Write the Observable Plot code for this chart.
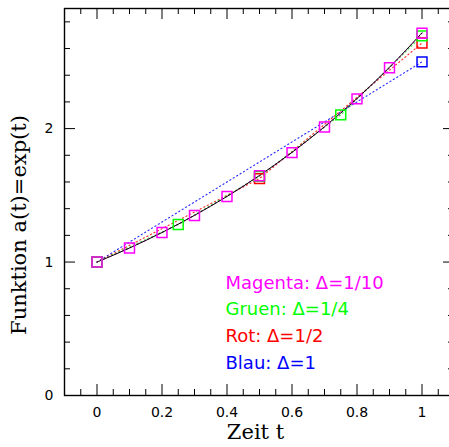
<!DOCTYPE html>
<html>
<head>
<meta charset="utf-8">
<script src="https://cdn.jsdelivr.net/npm/d3@7"></script>
<script src="https://cdn.jsdelivr.net/npm/@observablehq/plot@0.6"></script>
<style>
  html, body { margin: 0; padding: 0; background: #fff; }
  g[aria-label="legend"] text { letter-spacing: 2.7px; }
  g[aria-label="title"] text { letter-spacing: 2.2px; }
</style>
</head>
<body>
<div id="chart"></div>
<script>
// exact curve a(t) = exp(t), sampled values
const tExact = [0,0.05,0.1,0.15,0.2,0.25,0.3,0.35,0.4,0.45,0.5,0.55,0.6,0.65,0.7,0.75,0.8,0.85,0.9,0.95,1];
const aExact = [1,1.0513,1.1052,1.1618,1.2214,1.2840,1.3499,1.4191,1.4918,1.5683,1.6487,1.7333,1.8221,1.9155,2.0138,2.1170,2.2255,2.3396,2.4596,2.5857,2.7183];

// approximations
const tMagenta = [0,0.1,0.2,0.3,0.4,0.5,0.6,0.7,0.8,0.9,1];
const aMagenta = [1,1.105,1.221,1.349,1.491,1.647,1.820,2.012,2.223,2.456,2.714];
const tGreen = [0,0.25,0.5,0.75,1];
const aGreen = [1,1.281,1.642,2.103,2.695];
const tRed = [0,0.5,1];
const aRed = [1,1.625,2.641];
const tBlue = [0,1];
const aBlue = [1,2.5];

const legendLabels = ["Magenta: Δ=1/10", "Gruen: Δ=1/4", "Rot: Δ=1/2", "Blau: Δ=1"];
const legendColors = ["#ff00ff", "#00ff00", "#ff0000", "#0000ff"];

const xMajor = [0,0.2,0.4,0.6,0.8,1];
const xMinor = [-0.05,0.05,0.1,0.15,0.25,0.3,0.35,0.45,0.5,0.55,0.65,0.7,0.75,0.85,0.9,0.95,1.05];
const yMajor = [0,1,2];
const yMinor = [0.2,0.4,0.6,0.8,1.2,1.4,1.6,1.8,2.2,2.4,2.6,2.8];

const W = 449, H = 447;
const mL = 64, mR = -5, mT = 8, mB = 52;
const frameW = W - mL - mR, frameH = H - mT - mB;
const majLen = 11, minLen = 6;

const rows = (ts, as) => ts.map((t, i) => ({t, a: as[i]}));
const series = [
  {d: rows(tBlue, aBlue), c: "#0000ff"},
  {d: rows(tRed, aRed), c: "#ff0000"},
  {d: rows(tGreen, aGreen), c: "#00ff00"},
  {d: rows(tMagenta, aMagenta), c: "#ff00ff"}
];

const marks = [];
// ticks (inward, all four sides)
marks.push(Plot.tickX(xMajor, {x: d => d, insetTop: frameH - majLen, stroke: "#000", strokeWidth: 1}));
marks.push(Plot.tickX(xMinor, {x: d => d, insetTop: frameH - minLen, stroke: "#000", strokeWidth: 1}));
marks.push(Plot.tickX(xMajor, {x: d => d, insetBottom: frameH - majLen, stroke: "#000", strokeWidth: 1}));
marks.push(Plot.tickX(xMinor, {x: d => d, insetBottom: frameH - minLen, stroke: "#000", strokeWidth: 1}));
marks.push(Plot.tickY(yMajor, {y: d => d, insetRight: frameW - majLen, stroke: "#000", strokeWidth: 1}));
marks.push(Plot.tickY(yMinor, {y: d => d, insetRight: frameW - minLen, stroke: "#000", strokeWidth: 1}));
marks.push(Plot.tickY(yMajor, {y: d => d, insetLeft: frameW - majLen, stroke: "#000", strokeWidth: 1}));
marks.push(Plot.tickY(yMinor, {y: d => d, insetLeft: frameW - minLen, stroke: "#000", strokeWidth: 1}));
marks.push(Plot.frame({stroke: "#000", strokeWidth: 1.4}));
// tick labels
marks.push(Plot.axisX({anchor: "bottom", ticks: xMajor, tickSize: 0, tickPadding: 12, tickFormat: d => String(d), fontSize: 14, label: null}));
marks.push(Plot.axisY({anchor: "left", ticks: yMajor, tickSize: 0, tickPadding: 11, tickFormat: d => String(d), fontSize: 14, label: null}));

// dotted connecting lines
for (const s of series) {
  marks.push(Plot.line(s.d, {x: "t", y: "a", stroke: s.c, strokeWidth: 1.1, strokeOpacity: 0.85, strokeDasharray: "1.2,2.8"}));
}
// exact curve
marks.push(Plot.line(rows(tExact, aExact), {x: "t", y: "a", stroke: "#000", strokeWidth: 1, curve: "catmull-rom"}));
// squares
for (const s of series) {
  marks.push(Plot.dot(s.d, {x: "t", y: "a", symbol: "square", r: 5.6, stroke: s.c, strokeWidth: 1.5, fill: "none"}));
}
// legend
legendLabels.forEach((lab, i) => {
  marks.push(Plot.text([lab], {
    text: d => d, frameAnchor: "top-left", textAnchor: "start", lineAnchor: "bottom",
    dx: 161, dy: 280 + i * 26.7, fill: legendColors[i], fontSize: 18,
    fontFamily: "DejaVu Sans", ariaLabel: "legend"
  }));
});
// axis titles
marks.push(Plot.text(["Zeit t"], {
  text: d => d, frameAnchor: "bottom", textAnchor: "middle", dx: -4, dy: 43.3, fontSize: 21,
  fontFamily: "DejaVu Serif", fill: "#000", ariaLabel: "title"
}));
marks.push(Plot.text(["Funktion a(t)=exp(t)"], {
  text: d => d, frameAnchor: "left", textAnchor: "middle", rotate: -90, dx: -45.7, dy: 23, fontSize: 21,
  fontFamily: "DejaVu Serif", fill: "#000", ariaLabel: "title"
}));

const chart = Plot.plot({
  width: W, height: H,
  marginLeft: mL, marginRight: mR, marginTop: mT, marginBottom: mB,
  x: {domain: [-0.1, 1.1], label: null},
  y: {domain: [0, 2.9], label: null},
  style: {fontFamily: "DejaVu Sans", fontSize: "14px", background: "#fff", color: "#000"},
  marks
});
document.getElementById("chart").appendChild(chart);
</script>
</body>
</html>
